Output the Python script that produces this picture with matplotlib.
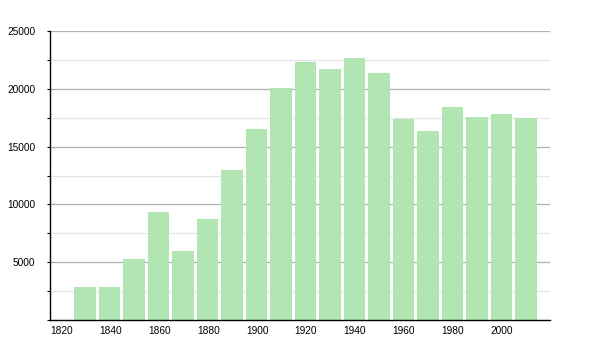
import matplotlib
matplotlib.use("Agg")
import matplotlib.pyplot as plt
from matplotlib.ticker import MultipleLocator

years = [1830, 1840, 1850, 1860, 1870, 1880, 1890, 1900, 1910, 1920,
         1930, 1940, 1950, 1960, 1970, 1980, 1990, 2000, 2010]
population = [2850, 2850, 5280, 9320, 5990, 8740, 12970, 16520, 20100, 22300,
              21700, 22690, 21340, 17360, 16380, 18400, 17530, 17820, 17500]
x_ticks = [1820, 1840, 1860, 1880, 1900, 1920, 1940, 1960, 1980, 2000]
y_ticks = [5000, 10000, 15000, 20000, 25000]

plt.rcParams['font.family'] = ['Liberation Sans', 'DejaVu Sans']

fig = plt.figure(figsize=(6, 3.5), dpi=100)
ax = fig.add_axes([50/600, 30/350, 500/600, 289/350])

ax.bar(years, population, width=8.8, align='edge', color='#b1e5b1',
       edgecolor='none', zorder=2)

ax.set_xlim(1820.2, 2024.3)
ax.set_ylim(0, 25000)

ax.yaxis.set_major_locator(MultipleLocator(5000))
ax.yaxis.set_minor_locator(MultipleLocator(2500))
ax.set_yticks(y_ticks)
ax.set_yticklabels([str(v) for v in y_ticks])
ax.set_xticks(x_ticks)
ax.set_xticklabels([str(v) for v in x_ticks], ha='left')

ax.grid(axis='y', which='major', color='#b0b0b0', linewidth=0.9, zorder=1)
ax.grid(axis='y', which='minor', color='#e6e6e6', linewidth=0.9, zorder=1)
ax.set_axisbelow(True)

for s in ['top', 'right']:
    ax.spines[s].set_visible(False)
for s in ['left', 'bottom']:
    ax.spines[s].set_color('black')
    ax.spines[s].set_linewidth(1.0)

ax.tick_params(axis='y', which='major', length=2.5, width=0.8, pad=8,
               labelsize=7.3, colors='black')
ax.tick_params(axis='y', which='minor', length=2, width=0.8)
ax.tick_params(axis='x', which='major', length=0, pad=4, labelsize=7.3)
ax.tick_params(axis='x', which='minor', length=0)

for lbl in ax.get_xticklabels():
    lbl.set_x(lbl.get_position()[0])

fig.savefig("out.png", dpi=100)
